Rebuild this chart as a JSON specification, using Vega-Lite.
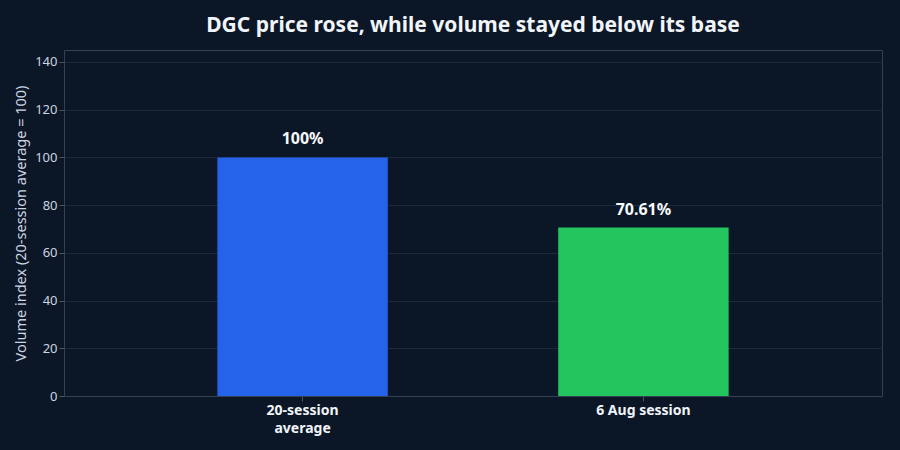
{
  "$schema": "https://vega.github.io/schema/vega-lite/v6.json",
  "width": 900,
  "height": 450,
  "autosize": {"type": "fit", "contains": "padding"},
  "padding": {"left": 13, "top": 15, "right": 18, "bottom": 15},
  "background": "#0b1727",
  "title": {
    "text": "DGC price rose, while volume stayed below its base",
    "font": "Noto Sans",
    "fontSize": 21,
    "fontWeight": "bold",
    "color": "#f1f5f9",
    "offset": 14,
    "anchor": "middle"
  },
  "config": {
    "font": "Noto Sans",
    "view": {"stroke": "#334155", "strokeWidth": 1},
    "axis": {
      "domainColor": "#334155",
      "tickColor": "#475569",
      "gridColor": "#1e293b",
      "labelColor": "#cbd5e1",
      "titleColor": "#cbd5e1"
    }
  },
  "data": {
    "values": [
      {"category": "20-session average", "value": 100, "label": "100%", "color": "#2563eb"},
      {"category": "6 Aug session", "value": 70.61, "label": "70.61%", "color": "#22c55e"}
    ]
  },
  "encoding": {
    "x": {
      "field": "category",
      "type": "nominal",
      "sort": null,
      "scale": {"paddingInner": 0.5, "paddingOuter": 0.45},
      "axis": {
        "title": null,
        "labelAngle": 0,
        "labelFontSize": 14,
        "labelFontWeight": "bold",
        "labelColor": "#f1f5f9",
        "labelPadding": 2,
        "labelLineHeight": 18,
        "tickSize": 5,
        "grid": false,
        "labelExpr": "datum.label == '20-session average' ? ['20-session', 'average'] : datum.label"
      }
    },
    "y": {
      "field": "value",
      "type": "quantitative",
      "scale": {"domain": [0, 145], "nice": false},
      "axis": {
        "title": "Volume index (20-session average = 100)",
        "titleFontSize": 14.5,
        "titleFontWeight": "normal",
        "titlePadding": 6,
        "labelFontSize": 13,
        "values": [0, 20, 40, 60, 80, 100, 120, 140],
        "tickSize": 5,
        "domain": false
      }
    }
  },
  "layer": [
    {
      "mark": {"type": "bar"},
      "encoding": {
        "color": {"field": "color", "type": "nominal", "scale": null, "legend": null}
      }
    },
    {
      "mark": {"type": "text", "dy": -18, "fontSize": 16, "fontWeight": "bold", "color": "#f8fafc"},
      "encoding": {
        "text": {"field": "label"}
      }
    }
  ]
}
